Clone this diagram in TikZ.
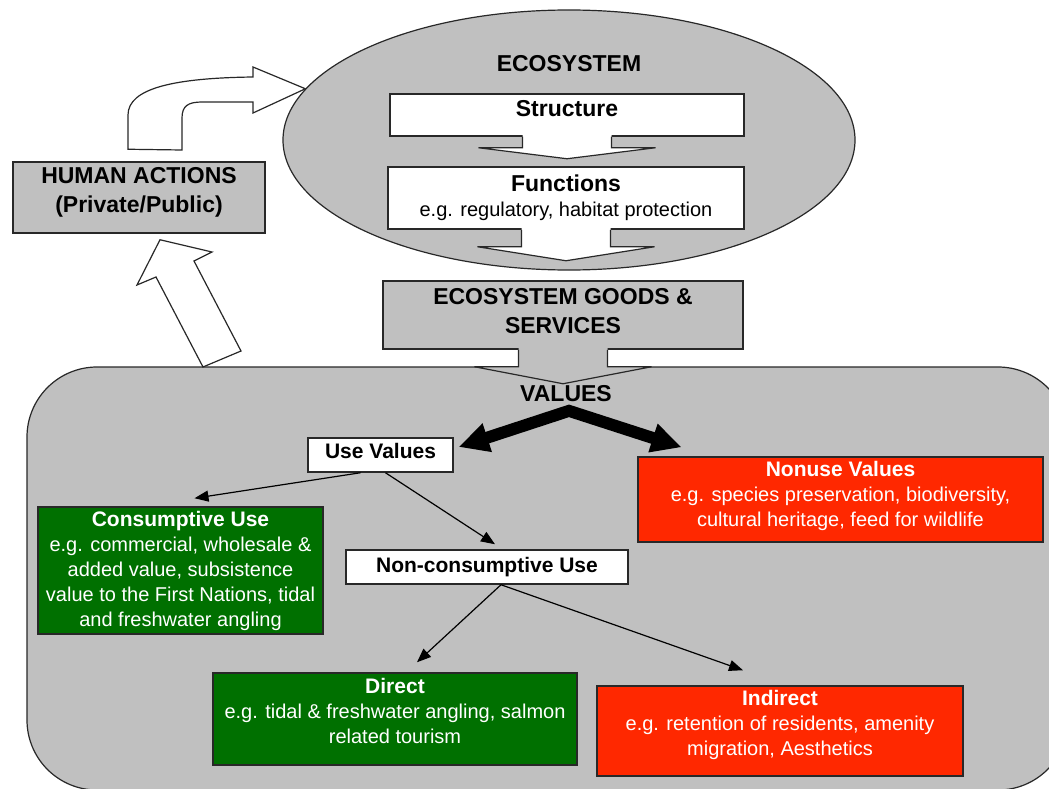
\documentclass[tikz,border=0pt]{standalone}
\usepackage{fontspec}
\setmainfont{Liberation Sans}
\usetikzlibrary{shapes.geometric,arrows.meta}

\definecolor{bggray}{RGB}{192,192,192}
\definecolor{boxline}{RGB}{40,40,40}
\definecolor{ecogreen}{RGB}{0,112,0}
\definecolor{ecored}{RGB}{255,40,0}

\newcommand{\hd}{\fontsize{23}{29}\selectfont\bfseries}
\newcommand{\subhd}{\fontsize{21}{25}\selectfont\bfseries}
\newcommand{\bodytxt}{\fontsize{20}{25}\selectfont}

% block arrow pointing down out of a box: node, fill, head base, tip
\newcommand{\downblock}[4]{%
  \fill[#2] (#1.south) ++(-44.5,-2) -- ++(0,#3+2) -- ++(-44,0) -- ++(88.5,#4-#3)
    -- ++(88.5,#3-#4) -- ++(-44,0) -- ++(0,-#3-2) -- cycle;
  \draw[boxline, line width=1.2pt] (#1.south) ++(-44.5,0) -- ++(0,#3) -- ++(-44,0)
    -- ++(88.5,#4-#3) -- ++(88.5,#3-#4) -- ++(-44,0) -- ++(0,-#3);
}

\begin{document}
\begin{tikzpicture}[x=1pt, y=-1pt,
    box/.style={draw=boxline, line width=1.5pt, inner sep=0, align=center},
    whitebox/.style={box, fill=white},
    graybox/.style={box, fill=bggray},
    greenbox/.style={box, fill=ecogreen, text=white, font=\bodytxt},
    redbox/.style={box, fill=ecored, text=white, font=\bodytxt},
    lbl/.style={inner sep=0, font=\hd},
    hollow/.style={draw=boxline, fill=white, line width=1.2pt, line join=miter},
    thinarrow/.style={draw=black, line width=1.2pt, -{Triangle[length=14pt,width=11pt]}},
    bigarrow/.style={draw=black, line width=12pt, line join=miter,
      {Triangle[length=30pt,width=28pt]}-{Triangle[length=30pt,width=28pt]}}]
  \useasboundingbox (0,0) rectangle (1049,789);
  \clip (0,0) rectangle (1049,789);

  % values area and ecosystem
  \node[draw=boxline, line width=1.2pt, fill=bggray, rounded corners=70pt, inner sep=0,
        minimum width=1041pt, minimum height=423pt] (vbg) at (547.5,578.5) {};
  \node[ellipse, draw=boxline, line width=1.2pt, fill=bggray, inner sep=0,
        minimum width=572pt, minimum height=260pt] (eco) at (569,140) {};
  \node[lbl] (ecot) at (569,63.5) {ECOSYSTEM};
  \node[lbl] (vals) at (566,393.5) {VALUES};

  % boxes
  \node[whitebox, font=\hd, text depth=13pt, minimum width=354pt, minimum height=42pt] (str) at (567,115) {Structure};
  \node[whitebox, font=\bodytxt, minimum width=356pt, minimum height=62pt] (fun) at (566,198)
    {{\hd Functions}\\e.g. regulatory, habitat protection};
  \node[graybox, font=\hd, text depth=7.5pt, minimum width=360pt, minimum height=68pt] (goods) at (563,315)
    {ECOSYSTEM GOODS \&\\SERVICES};
  \node[graybox, font=\hd, text depth=14.6pt, minimum width=252pt, minimum height=71pt] (hum) at (139,197.5)
    {HUMAN ACTIONS\\(Private/Public)};
  \node[whitebox, font=\subhd, text depth=9pt, minimum width=145pt, minimum height=34pt] (usev) at (380.5,455) {Use Values};
  \node[whitebox, font=\subhd, minimum width=282pt, minimum height=34pt] (noncons) at (487,567) {Non-consumptive Use};
  \node[redbox, text depth=12.2pt, minimum width=405pt, minimum height=85pt] (nonuse) at (840.5,499.5)
    {{\subhd Nonuse Values}\\e.g. species preservation, biodiversity,\\cultural heritage, feed for wildlife};
  \node[greenbox, minimum width=285pt, minimum height=127pt] (cons) at (180.5,570.5)
    {{\subhd Consumptive Use}\\e.g. commercial, wholesale \&\\added value, subsistence\\value to the First Nations, tidal\\and freshwater angling};
  \node[greenbox, text depth=17.2pt, minimum width=364pt, minimum height=92pt] (direct) at (395,719)
    {{\subhd Direct}\\e.g. tidal \& freshwater angling, salmon\\related tourism};
  \node[redbox, text depth=17.2pt, minimum width=366pt, minimum height=90pt] (indirect) at (780,731)
    {{\subhd Indirect}\\e.g. retention of residents, amenity\\migration, Aesthetics};

  % block arrows
  \downblock{str}{white}{11}{22}
  \downblock{fun}{white}{17}{31}
  \downblock{goods}{bggray}{17}{34}
  \draw[hollow] ([xshift=-11pt,yshift=12pt]hum.north) -- (128,115) .. controls (128,88) and (175,78) .. (253,77)
    -- (253,67) -- (eco.169) -- (253,113) -- (253,102) -- (202,102) .. controls (188,102) and (182,106) .. (182,118)
    -- (182,150) -- cycle;
  \draw[hollow] (203,367) -- (156,277) -- (137,285) -- ([xshift=21pt,yshift=-6pt]hum.south)
    -- (212,252) -- (194,261) -- (241,351) -- cycle;

  % arrows between values
  \draw[bigarrow] ([xshift=5pt,yshift=8pt]usev.east) -- ([xshift=3pt,yshift=-9pt]vals.south)
    -- ([xshift=-159pt,yshift=9pt]nonuse.north);
  \draw[thinarrow] ([xshift=-20pt]usev.south) -- ([xshift=14pt,yshift=8pt]cons.north);
  \draw[thinarrow] ([xshift=5pt]usev.south) -- ([xshift=8pt,yshift=5pt]noncons.north);
  \draw[thinarrow] ([xshift=14pt]noncons.south) -- ([xshift=22pt,yshift=10pt]direct.north);
  \draw[thinarrow] ([xshift=14pt]noncons.south) -- ([xshift=-37pt,yshift=15pt]indirect.north);
\end{tikzpicture}
\end{document}
